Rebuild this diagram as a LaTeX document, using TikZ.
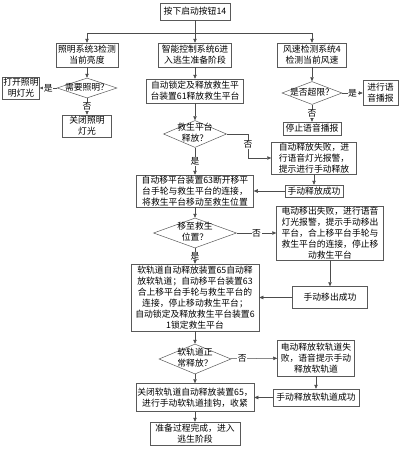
\documentclass[tikz,border=0pt]{standalone}
\usepackage{fontspec}
\setmainfont{Noto Sans CJK SC}
\usetikzlibrary{arrows.meta,shapes.geometric}
\newcommand\dtxt[1]{\makebox[0pt]{\begin{tabular}{@{}c@{}}#1\end{tabular}}}

\begin{document}
\begin{tikzpicture}[x=1pt,y=-1pt,>={Triangle[length=4pt,width=3.4pt]},font=\fontsize{8.8}{10.9}\selectfont,
  box/.style={draw=black!65,line width=0.5pt,align=center,inner sep=1pt},
  dia/.style={draw=black!65,line width=0.5pt,diamond,inner sep=0pt},
  lbl/.style={fill=white,inner sep=0.6pt},
  line/.style={draw=black!70,line width=0.5pt}]
\useasboundingbox (0,0) rectangle (405,450);
\node[box,minimum width=70pt,minimum height=17pt] (start) at (195,11.5) {按下启动按钮14};
\coordinate (split) at (195,33);
\node[box,minimum width=62pt,minimum height=24pt] (light) at (87,55) {照明系统3检测\\当前亮度};
\node[box,minimum width=73pt,minimum height=24pt] (ctrl) at (195,55) {智能控制系统6进\\入逃生准备阶段};
\node[box,minimum width=69pt,minimum height=24pt] (wind) at (312,55) {风速检测系统4\\检测当前风速};
\node[dia,minimum width=60pt,minimum height=20pt] (needl) at (87,88) {\dtxt{需要照明？}};
\node[box,minimum width=37pt,minimum height=22pt,inner sep=0.5pt] (lon) at (21,88) {打开照明\\明灯光};
\node[box,minimum width=49pt,minimum height=22pt] (loff) at (87,126) {关闭照明\\灯光};
\node[box,minimum width=97pt,minimum height=24pt] (rel) at (195,91) {自动锁定及释放救生平\\台装置61释放救生平台};
\node[dia,minimum width=63pt,minimum height=27pt] (isrel) at (195,134) {\dtxt{救生平台\\释放？}};
\node[dia,minimum width=60pt,minimum height=23pt] (over) at (312,93) {\dtxt{是否超限？}};
\node[box,minimum width=35pt,minimum height=25pt] (voice) at (380.5,93) {进行语\\音播报};
\node[box,minimum width=58pt,minimum height=13pt] (stopv) at (312,128.5) {停止语音播报};
\node[box,minimum width=85pt,minimum height=32pt] (fail1) at (314,158) {自动释放失败，进\\行语音灯光报警，\\提示进行手动释放};
\coordinate (c1) at (248,158);
\node[box,minimum width=58pt,minimum height=12pt] (man1) at (314,191) {手动释放成功};
\node[box,minimum width=117pt,minimum height=32pt] (move) at (195,191) {自动移平台装置63断开移平\\台手轮与救生平台的连接，\\将救生平台移动至救生位置};
\node[dia,minimum width=83pt,minimum height=30pt] (atpos) at (195,233) {\dtxt{移至救生\\位置？}};
\node[box,minimum width=107pt,minimum height=54pt] (fail2) at (330,233) {电动移出失败，进行语音\\灯光报警，提示手动移出\\平台，合上移平台手轮与\\救生平台的连接，停止移\\动救生平台};
\node[box,minimum width=75pt,minimum height=22pt] (man2) at (330,297.5) {手动移出成功};
\node[box,minimum width=128pt,minimum height=67pt] (soft) at (195,297.5) {软轨道自动释放装置65自动释\\放软轨道；自动移平台装置63\\合上移平台手轮与救生平台的\\连接，停止移动救生平台；\\自动锁定及释放救生平台装置6\\1锁定救生平台};
\node[dia,minimum width=72pt,minimum height=30pt] (softok) at (195,359) {\dtxt{软轨道正\\常释放？}};
\node[box,minimum width=77pt,minimum height=36pt] (fail3) at (316,358) {电动释放软轨道失\\败，语音提示手动\\释放软轨道};
\node[box,minimum width=86pt,minimum height=17pt] (man3) at (316,397.5) {手动释放软轨道成功};
\node[box,minimum width=118pt,minimum height=28pt] (close) at (195,397.5) {关闭软轨道自动释放装置65，\\进行手动软轨道挂钩，收紧};
\node[box,minimum width=90pt,minimum height=23pt] (done) at (195,433.5) {准备过程完成，进入\\逃生阶段};
\draw[line] (start) -- (split);
\draw[line,->] (split) -| (light);
\draw[line,->] (split) -- (ctrl);
\draw[line,->] (split) -| (wind);
\draw[line,->] (light) -- (needl);
\draw[line,->] (needl) -- node[lbl]{是} (lon);
\draw[line,->] (needl) -- node[lbl]{否} (loff);
\draw[line,->] (ctrl) -- (rel);
\draw[line,->] (rel) -- (isrel);
\draw[line,->] (isrel) -- node[lbl]{是} (move);
\draw[line,->] (isrel.east) -| node[lbl,pos=0.72]{否} (c1) -- (fail1);
\draw[line,->] (wind) -- (over);
\draw[line,->] (over) -- node[lbl]{是} (voice);
\draw[line,->] (over) -- node[lbl]{否} (stopv);
\draw[line,->] (fail1) -- (man1);
\draw[line,->] (man1) -- (move);
\draw[line,->] (move) -- (atpos);
\draw[line,->] (atpos) -- node[lbl]{否} (fail2);
\draw[line,->] (atpos) -- node[lbl]{是} (soft);
\draw[line,->] (fail2) -- (man2);
\draw[line,->] (man2) -- (soft);
\draw[line,->] (soft) -- (softok);
\draw[line,->] (softok) -- node[lbl,pos=0.25]{否} (fail3);
\draw[line,->] (softok) -- (close);
\draw[line,->] (fail3) -- (man3);
\draw[line,->] (man3) -- (close);
\draw[line,->] (close) -- (done);
\end{tikzpicture}
\end{document}
